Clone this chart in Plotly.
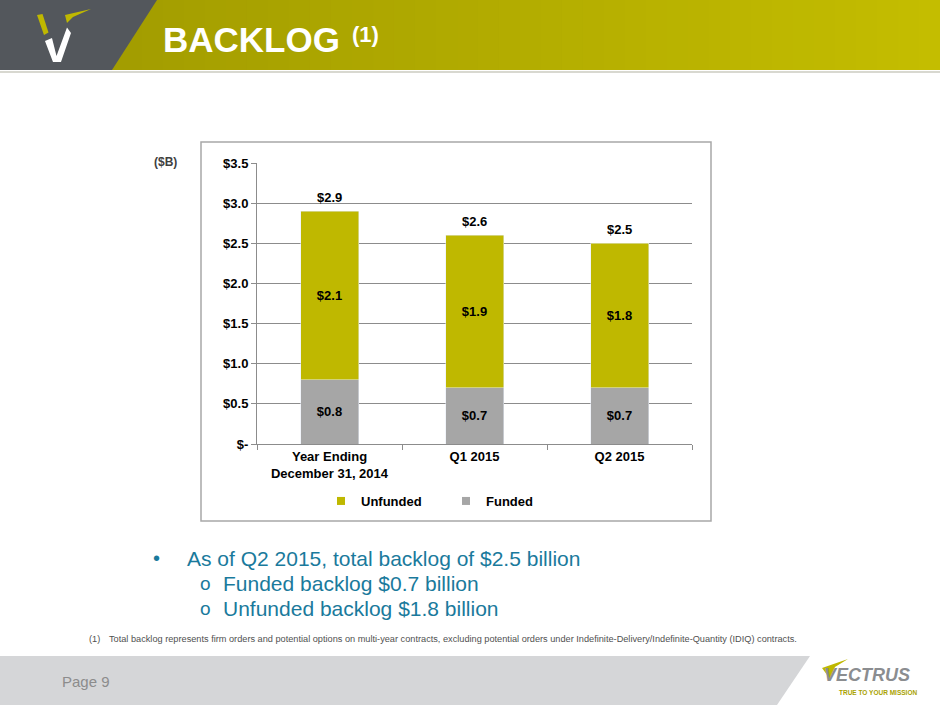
import plotly.graph_objects as go

# ── Data ──────────────────────────────────────────────
CATEGORIES = ["Year Ending<br>December 31, 2014", "Q1 2015", "Q2 2015"]
FUNDED = [0.8, 0.7, 0.7]
UNFUNDED = [2.1, 1.9, 1.8]
TOTALS = [2.9, 2.6, 2.5]
Y_TICKS = [0, 0.5, 1.0, 1.5, 2.0, 2.5, 3.0, 3.5]
Y_TICK_TEXT = ["$-", "$0.5", "$1.0", "$1.5", "$2.0", "$2.5", "$3.0", "$3.5"]

BULLETS = [
    "As of Q2 2015, total backlog of $2.5 billion",
    "Funded backlog $0.7 billion",
    "Unfunded backlog $1.8 billion",
]
FOOTNOTE = ("Total backlog represents firm orders and potential options on multi-year contracts, "
            "excluding potential orders under Indefinite-Delivery/Indefinite-Quantity (IDIQ) contracts.")

# ── Style ─────────────────────────────────────────────
FONT = "Liberation Sans, Arial, sans-serif"
OLIVE = "#bfb800"
GREY_BAR = "#a6a6a6"
TEAL = "#1a7a9c"
DARK = "#53575c"

W, H = 940, 705
# plot area in page pixels
PL, PR, PT, PB = 257, 692, 163, 444


def px(x, y):
    """page pixels -> paper coords"""
    return (x - PL) / (PR - PL), (PB - y) / (PB - PT)


def poly(points, color):
    parts = []
    for i, (x, y) in enumerate(points):
        u, v = px(x, y)
        parts.append(("M" if i == 0 else "L") + f"{u:.4f},{v:.4f}")
    return dict(type="path", xref="paper", yref="paper", path=" ".join(parts) + " Z",
                fillcolor=color, line=dict(width=0), layer="above")


def label(x, y, text, size, color, bold=False, anchor="left", italic=False, fam=FONT):
    u, v = px(x, y)
    return dict(x=u, y=v, xref="paper", yref="paper", text=text, showarrow=False,
                xanchor=anchor, yanchor="middle",
                font=dict(family=fam, size=size, color=color,
                          weight="bold" if bold else "normal",
                          style="italic" if italic else "normal"))


fig = go.Figure()

bar_font = dict(family=FONT, size=13, color="black", weight="bold")
fig.add_trace(go.Bar(
    x=CATEGORIES, y=FUNDED, name="Funded", marker_color=GREY_BAR, width=0.4,
    text=[f"${v:.1f}" for v in FUNDED], textposition="inside",
    insidetextanchor="middle", textangle=0, constraintext="none",
    textfont=bar_font, showlegend=False,
))
fig.add_trace(go.Bar(
    x=CATEGORIES, y=UNFUNDED, name="Unfunded", marker_color=OLIVE, width=0.4,
    text=[f"${v:.1f}" for v in UNFUNDED], textposition="inside",
    insidetextanchor="middle", textangle=0, constraintext="none",
    textfont=bar_font, showlegend=False,
))
# legend proxies (small squares like the original)
for name, col in [("Unfunded", OLIVE), ("Funded", GREY_BAR)]:
    fig.add_trace(go.Scatter(x=[None], y=[None], mode="markers", name=name,
                             marker=dict(symbol="square", size=8, color=col)))

annotations = []
for cat, tot in zip(CATEGORIES, TOTALS):
    annotations.append(dict(x=cat, y=tot, xref="x", yref="y", text=f"${tot:.1f}",
                            showarrow=False, yshift=14, yanchor="middle",
                            font=dict(family=FONT, size=13, color="black", weight="bold")))

# ── Slide decoration ──────────────────────────────────
shapes = []
# olive header gradient
n = 40
c0, c1 = (0xa3, 0x9d, 0x00), (0xc4, 0xbd, 0x00)
for i in range(n):
    t = i / (n - 1)
    col = "#%02x%02x%02x" % tuple(int(a + (b - a) * t) for a, b in zip(c0, c1))
    x0 = 100 + (W - 100) * i / n
    x1 = 100 + (W - 100) * (i + 1) / n + 1
    shapes.append(poly([(x0, 0), (x1, 0), (x1, 70), (x0, 70)], col))
shapes.append(poly([(0, 0), (157, 0), (112, 70), (0, 70)], DARK))
shapes.append(poly([(0, 71), (W, 71), (W, 73), (0, 73)], "#d8d8d0"))
# V logo
shapes.append(poly([(37, 15), (42.5, 14), (48.5, 32.5), (44, 35)], OLIVE))
shapes.append(poly([(45, 41), (52, 38), (56.5, 56), (67, 27.5), (71, 33), (61, 62), (53, 62)], "white"))
shapes.append(poly([(65, 15), (91, 9), (73, 17), (67, 23)], OLIVE))
# chart box
u0, v0 = px(201, 521)
u1, v1 = px(711, 142)
shapes.append(dict(type="rect", xref="paper", yref="paper", x0=u0, y0=v0, x1=u1, y1=v1,
                   line=dict(color="#a8a8a8", width=1.5), layer="below"))
# footer band
shapes.append(poly([(0, 656), (810, 656), (777, 705), (0, 705)], "#d5d6d8"))
# Vectrus swoosh
shapes.append(poly([(822, 668), (848, 659), (835, 667), (830, 679)], OLIVE))

annotations += [
    label(161, 40, "BACKLOG", 35, "white", bold=True),
    label(350, 35, "(1)", 22, "white", bold=True),
    label(152, 162, "($B)", 12, "#404040", bold=True),
    label(151, 558, "•", 20, TEAL),
    label(185, 558, BULLETS[0], 21, TEAL),
    label(198, 583, "o", 19, TEAL),
    label(221, 583, BULLETS[1], 21, TEAL),
    label(198, 608, "o", 19, TEAL),
    label(221, 608, BULLETS[2], 21, TEAL),
    label(87, 639, "(1)", 9.2, "#505050"),
    label(107, 639, FOOTNOTE, 9.2, "#505050"),
    label(60, 681, "Page 9", 15, "#8c8c8c"),
    label(822, 675, "VECTRUS", 18, "#8b8d90", bold=True, italic=True),
    label(837, 692, "TRUE TO YOUR MISSION", 6.5, "#a9a200", bold=True),
]

lu, lv = px(321, 501)
fig.update_layout(
    width=W, height=H,
    margin=dict(l=PL, r=W - PR, t=PT, b=H - PB),
    paper_bgcolor="white", plot_bgcolor="white",
    barmode="stack", bargap=0.6,
    font=dict(family=FONT, color="black"),
    showlegend=True,
    legend=dict(orientation="h", x=lu, y=lv, xanchor="left", yanchor="middle",
                traceorder="normal", entrywidth=80, itemwidth=30,
                font=dict(family=FONT, size=13, color="black", weight="bold"),
                bgcolor="rgba(0,0,0,0)"),
    xaxis=dict(showline=True, linecolor="#8c8c8c", linewidth=1,
               ticks="outside", tickson="boundaries", ticklen=5, tickcolor="#8c8c8c",
               tickfont=dict(family=FONT, size=13, color="black", weight="bold"),
               showgrid=False, fixedrange=True),
    yaxis=dict(range=[0, 3.5], tickvals=Y_TICKS, ticktext=Y_TICK_TEXT,
               showline=True, linecolor="#8c8c8c", linewidth=1,
               ticks="outside", ticklen=5, tickcolor="#8c8c8c",
               showgrid=True, gridcolor="#8c8c8c", gridwidth=1,
               zeroline=False,
               tickfont=dict(family=FONT, size=13, color="black", weight="bold"),
               fixedrange=True),
    shapes=shapes,
    annotations=annotations,
)

# body has an 8px default margin; drop it so the slide fills the window
fig.write_html("out.html", config={"displayModeBar": False},
               post_script="document.body.style.margin='0';")
